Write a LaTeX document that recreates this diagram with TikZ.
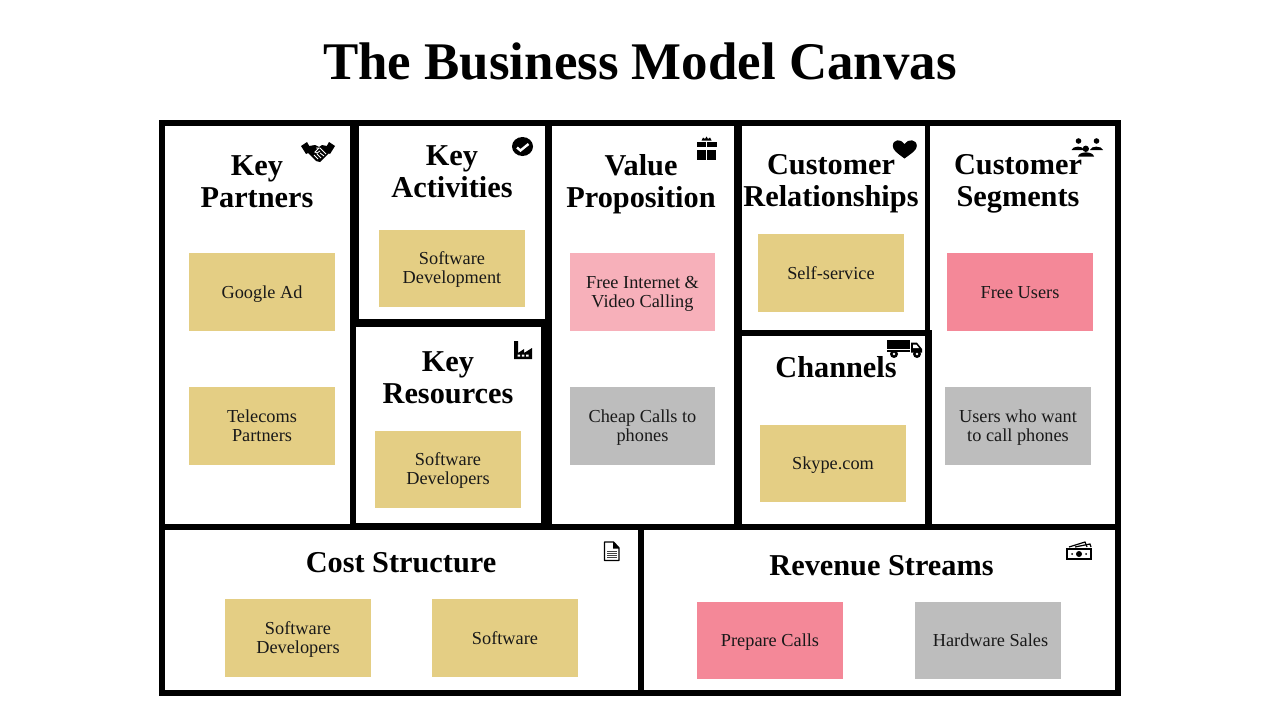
\documentclass[tikz,border=0pt]{standalone}
\usepackage{fontspec}
\setmainfont{Liberation Serif}
\definecolor{sand}{HTML}{E4CE84}
\definecolor{rose}{HTML}{F48898}
\definecolor{blush}{HTML}{F7B0BA}
\definecolor{stone}{HTML}{BDBDBD}
\newcommand{\twolines}[2]{\raisebox{0pt}[0pt][0pt]{\begin{tabular}{@{}c@{}}#1\\#2\end{tabular}}}
\tikzset{
  x=1pt,y=-1pt,
  cell/.style={fill=white,draw=none},
  head/.style={font=\fontsize{30.3}{32}\selectfont\bfseries,align=center,inner sep=0pt},
  note/.style={minimum width=146pt,minimum height=78pt,inner sep=0pt,align=center,font=\fontsize{18.3}{19}\selectfont,text=black!90,
    execute at begin node={\rule{0pt}{18.3pt}},execute at end node={\strut}},
  sand note/.style={note,fill=sand},
  rose note/.style={note,fill=rose},
  blush note/.style={note,fill=blush},
  stone note/.style={note,fill=stone},
  ic/.style={fill=black,draw=none}
}
\begin{document}
\begin{tikzpicture}
\useasboundingbox (0,0) rectangle (1280,720);
\fill[white] (0,0) rectangle (1280,720);
\node[font=\fontsize{52.9}{55}\selectfont\bfseries,inner sep=0pt] (title) at (640,61) {The Business Model Canvas};
\fill[black] (159,120) rectangle (1121,696);
\fill[cell] (165,125.5) rectangle (350,523.5);
\fill[cell] (359,125.5) rectangle (544.5,319);
\fill[cell] (356,327) rectangle (541,523);
\fill[cell] (552,125.5) rectangle (734,524);
\fill[cell] (742,125.5) rectangle (925,330);
\fill[cell] (742,336) rectangle (925,524);
\fill[cell] (930,125.5) rectangle (1115,330);
\fill[cell] (931.5,330) rectangle (1115,524);
\fill[cell] (165,530) rectangle (638,690);
\fill[cell] (644,530) rectangle (1115,690);
\node[head] (h1) at (257,181.5) {Key\\Partners};
\node[head] (h2) at (452,172) {Key\\Activities};
\node[head] (h3) at (448,378) {Key\\Resources};
\node[head] (h4) at (641,184) {Value\\Proposition};
\node[head] (h5) at (831,184) {Customer\\Relationships};
\node[head] (h6) at (1018,184) {Customer\\Segments};
\node[head] (h7) at (836,367) {Channels};
\node[head] (h8) at (401,563) {Cost Structure};
\node[head] (h9) at (881.5,566) {Revenue Streams};
\node[sand note] (n1) at (262,292) {Google Ad};
\node[sand note] (n2) at (262,426) {\twolines{Telecoms}{Partners}};
\node[sand note,minimum height=77pt] (n3) at (452,268.5) {\twolines{Software}{Development}};
\node[sand note,minimum height=77pt] (n4) at (448,469.5) {\twolines{Software}{Developers}};
\node[blush note,minimum width=145pt] (n5) at (642.5,292) {\twolines{Free Internet \&}{Video Calling}};
\node[stone note,minimum width=145pt] (n6) at (642.5,426) {\twolines{Cheap Calls to}{phones}};
\node[sand note] (n7) at (831,273) {Self-service};
\node[sand note,minimum height=77pt] (n8) at (833,463.5) {Skype.com};
\node[rose note] (n9) at (1020,292) {Free Users};
\node[stone note] (n10) at (1018,426) {\twolines{Users who want}{to call phones}};
\node[sand note] (n11) at (298,638) {\twolines{Software}{Developers}};
\node[sand note] (n12) at (505,638) {Software};
\node[rose note,minimum height=77pt] (n13) at (770,640.5) {Prepare Calls};
\node[stone note,minimum height=77pt] (n14) at (988,640.5) {\hspace*{5pt}Hardware Sales};
% handshake
\begin{scope}[shift={(318,152)}]
\fill[ic] (-17,-6) -- (-11,-10) -- (-6,-1) -- (-12,2) -- cycle;
\fill[ic] (17,-6) -- (11,-10) -- (6,-1) -- (12,2) -- cycle;
\fill[ic] (-9,-6) -- (-3,-7) -- (1,-5) -- (4,-7) -- (9,-6) -- (12,0) -- (2,10) -- (-2,9) -- (-11,0) -- cycle;
\draw[white,line width=.9pt] (-2,-4) -- (2,-4) -- (8,2) (1,-4) -- (-3,0) -- (-1,1) -- (2,-1) (-4,3) -- (0,7) (-1,2) -- (3,6) (2,1) -- (6,4);
\end{scope}
% check badge
\fill[ic] (522.5,146.5) ellipse (10.5 and 9.5);
\draw[white,line width=2.4pt] (517,147.5) -- (520.5,150.5) -- (528.5,144);
% gift
\begin{scope}[shift={(706.5,150)}]
\fill[ic] (-10,-8.5) rectangle (-0.7,-3);
\fill[ic] (0.7,-8.5) rectangle (10,-3);
\fill[ic] (-9.5,0) rectangle (-0.7,10);
\fill[ic] (0.7,0) rectangle (9.5,10);
\fill[ic] (-5,-9.5) -- (-3.5,-12.5) -- (-1.5,-11) -- (0,-13.5) -- (1.5,-11) -- (3.5,-12.5) -- (5,-9.5) -- cycle;
\end{scope}
% heart
\fill[ic] (904.5,158.5) .. controls (897,153) and (892.8,150) .. (892.8,146) .. controls (892.8,139) and (901,138.5) .. (904.5,144) .. controls (908,138.5) and (916.8,139) .. (916.8,146) .. controls (916.8,150) and (912,153) .. (904.5,158.5) -- cycle;
% people
\fill[ic] (1078.5,141) circle (2.8);
\fill[ic] (1096.5,141) circle (2.8);
\fill[ic] (1071.5,150) .. controls (1073,145.5) and (1083,145.5) .. (1084,150) -- cycle;
\fill[ic] (1090,150) .. controls (1091,145.5) and (1101.5,145.5) .. (1103,150) -- cycle;
\fill[ic] (1085.8,148.8) circle (3.2);
\fill[ic] (1078,156.5) .. controls (1079,151) and (1093,151) .. (1094,156.5) -- cycle;
% factory
\fill[ic] (514,341) -- (518,341) -- (518,353) -- (524,349) -- (524,353) -- (532,348) -- (532,359) -- (514,359) -- cycle;
\fill[white] (517.5,354.5) rectangle (520,356.5) (521.8,354.5) rectangle (524.3,356.5) (526.1,354.5) rectangle (528.6,356.5);
% truck
\fill[ic] (887,340) rectangle (910,349);
\fill[ic] (887,350) rectangle (910,352);
\fill[ic] (911,342.7) -- (917,342.7) -- (922,349) -- (922,352.5) -- (911,352.5) -- cycle;
\fill[white] (913,344.5) -- (916.2,344.5) -- (919,348) -- (913,348) -- cycle;
\fill[ic] (894,354) circle (4);
\fill[ic] (917,354) circle (4);
\fill[white] (894,354) circle (1.4);
\fill[white] (917,354) circle (1.4);
% document
\begin{scope}[shift={(604.5,542)}]
\draw[black,line width=1.4pt,line join=round] (0,0) -- (9,0) -- (14.5,6) -- (14.5,18.5) -- (0,18.5) -- cycle;
\fill[ic] (8.5,0) -- (14.5,6.5) -- (8.5,6.5) -- cycle;
\foreach \yy in {9,11,13,15}{\fill[black!75] (2.5,\yy) rectangle (12,\yy+1);}
\end{scope}
% money
\begin{scope}[shift={(1066,541)}]
\draw[black,line width=1.4pt] (1,8) rectangle (25,18);
\fill[ic] (13,13) circle (3);
\fill[ic] (6,13) circle (1); \fill[ic] (20,13) circle (1);
\draw[black,line width=1.2pt] (3,6) -- (19,1) -- (21,6);
\draw[black,line width=1.2pt] (9,6) -- (24,3) -- (25,6);
\end{scope}
\end{tikzpicture}
\end{document}
